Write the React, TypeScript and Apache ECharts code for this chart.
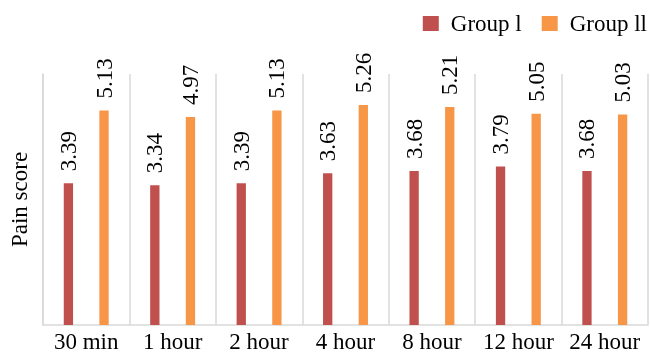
import React, { useEffect, useRef } from "react";
import * as echarts from "echarts";

const categories = ["30 min", "1 hour", "2 hour", "4 hour", "8 hour", "12 hour", "24 hour"];
const groupI = [3.39, 3.34, 3.39, 3.63, 3.68, 3.79, 3.68];
const groupII = [5.13, 4.97, 5.13, 5.26, 5.21, 5.05, 5.03];
const seriesNames = ["Group l", "Group ll"];
const yAxisName = "Pain score";

const FONT = "Liberation Serif";

export default function App() {
  const ref = useRef<HTMLDivElement>(null);
  useEffect(() => {
    if (!ref.current) return;
    const chart = echarts.init(ref.current, undefined, { renderer: "svg" });
    const makeLabel = () => ({
      show: true,
      position: "top" as const,
      rotate: 90,
      align: "left" as const,
      verticalAlign: "middle" as const,
      distance: 12,
      fontFamily: FONT,
      fontSize: 23,
      fontWeight: "normal" as const,
      color: "#000",
      textBorderWidth: 0,
    });
    chart.setOption({
      animation: false,
      textStyle: { fontFamily: FONT },
      grid: { left: 37, right: 2, top: 74, bottom: 28, containLabel: false },
      legend: {
        data: seriesNames,
        right: 3,
        top: 12,
        padding: 0,
        icon: "rect",
        itemWidth: 16,
        itemHeight: 15,
        itemGap: 20,
        textStyle: { fontFamily: FONT, fontSize: 23, color: "#000", padding: [0, 0, 0, 7] },
      },
      xAxis: {
        type: "category",
        data: categories,
        boundaryGap: true,
        axisLine: { show: true, lineStyle: { color: "#d9d9d9", width: 1.5 } },
        axisTick: { show: false },
        splitLine: { show: true, lineStyle: { color: "#d9d9d9", width: 1.5 } },
        axisLabel: { fontFamily: FONT, fontSize: 23, color: "#000", margin: 5, interval: 0, lineHeight: 23 },
      },
      yAxis: {
        type: "value",
        min: 0,
        max: 6,
        interval: 1,
        name: yAxisName,
        nameLocation: "middle",
        nameGap: 12,
        nameTextStyle: { fontFamily: FONT, fontSize: 23, color: "#000" },
        axisLine: { show: true, lineStyle: { color: "#d9d9d9", width: 1.5 } },
        axisTick: { show: false },
        axisLabel: { show: false },
        splitLine: { show: false },
      },
      series: [
        {
          name: seriesNames[0],
          type: "bar",
          data: groupI,
          barWidth: 9.3,
          barGap: "283%",
          itemStyle: { color: "#C0504D" },
          label: makeLabel(),
        },
        {
          name: seriesNames[1],
          type: "bar",
          data: groupII,
          barWidth: 9.3,
          itemStyle: { color: "#F79646" },
          label: makeLabel(),
        },
      ],
    });
    return () => chart.dispose();
  }, []);
  return (
    <div
      ref={ref}
      style={{ position: "fixed", top: 0, left: 0, width: 650, height: 353, overflow: "hidden" }}
    />
  );
}
